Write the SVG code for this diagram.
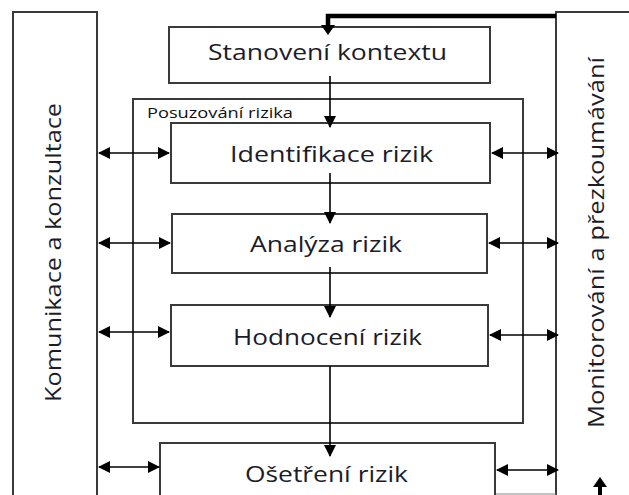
<svg xmlns="http://www.w3.org/2000/svg" width="629" height="495" viewBox="0 0 629 495">
<defs>
<style>
.box{fill:#fff;stroke:#3a3a3a;stroke-width:2}
.frame{fill:none;stroke:#3a3a3a;stroke-width:2}
.lbl{font-family:"Open Sans","Liberation Sans",sans-serif;font-size:21px;fill:#1c1c28}
.small{font-family:"Open Sans","Liberation Sans",sans-serif;font-size:14px;fill:#111}
.one{stroke:#000;stroke-width:1.6;fill:none;marker-end:url(#ah)}
.dbl{stroke:#000;stroke-width:1.6;fill:none;marker-start:url(#ah);marker-end:url(#ah)}
</style>
<marker id="ah" viewBox="0 0 12 12" refX="11" refY="6" markerWidth="12" markerHeight="12" markerUnits="userSpaceOnUse" orient="auto-start-reverse">
<path d="M0,0 L12,6 L0,12 Z" fill="#000"/>
</marker>
</defs>

<g id="komunikace">
<path class="frame" d="M13,495 V12 H97 V495"/>
<text class="lbl" transform="translate(61,402) rotate(-90)" x="0" y="0" textLength="299" lengthAdjust="spacingAndGlyphs">Komunikace a konzultace</text>
</g>

<g id="monitorovani">
<path class="frame" d="M629,12 H556 V495"/>
<text class="lbl" transform="translate(604,428) rotate(-90)" x="0" y="0" textLength="371" lengthAdjust="spacingAndGlyphs">Monitorování a přezkoumávání</text>
</g>

<g id="posuzovani">
<rect class="frame" x="133" y="99" width="390" height="324"/>
<text class="small" x="147" y="118" textLength="146" lengthAdjust="spacingAndGlyphs">Posuzování rizika</text>
</g>

<g id="stanoveni">
<rect class="box" x="169" y="27" width="321" height="56"/>
<text class="lbl" x="208" y="60" textLength="239" lengthAdjust="spacingAndGlyphs">Stanovení kontextu</text>
</g>

<g id="identifikace">
<rect class="box" x="171" y="123" width="319" height="60"/>
<text class="lbl" x="230" y="162" textLength="203" lengthAdjust="spacingAndGlyphs">Identifikace rizik</text>
</g>

<g id="analyza">
<rect class="box" x="172" y="214" width="315" height="59"/>
<text class="lbl" x="250" y="252" textLength="152" lengthAdjust="spacingAndGlyphs">Analýza rizik</text>
</g>

<g id="hodnoceni">
<rect class="box" x="171" y="305" width="317" height="61"/>
<text class="lbl" x="233" y="345" textLength="189" lengthAdjust="spacingAndGlyphs">Hodnocení rizik</text>
</g>

<g id="osetreni">
<path class="box" d="M160,496 V443 H495 V496"/>
<text class="lbl" x="245" y="482" textLength="163" lengthAdjust="spacingAndGlyphs">Ošetření rizik</text>
</g>

<g id="connectors">
<path d="M556,16 H328 V26" stroke="#000" stroke-width="4.5" fill="none"/>
<path d="M321,25 L335,25 L328,35 Z" fill="#000"/>
<line class="one" x1="330" y1="76" x2="330" y2="127"/>
<line class="one" x1="330" y1="173" x2="330" y2="223"/>
<line class="one" x1="330" y1="267" x2="330" y2="317"/>
<line class="one" x1="330" y1="366" x2="330" y2="456"/>
<line class="dbl" x1="99" y1="153" x2="169" y2="153"/>
<line class="dbl" x1="99" y1="243" x2="170" y2="243"/>
<line class="dbl" x1="99" y1="332" x2="169" y2="332"/>
<line class="dbl" x1="99" y1="467" x2="159" y2="467"/>
<line class="dbl" x1="492" y1="153" x2="558" y2="153"/>
<line class="dbl" x1="489" y1="243" x2="558" y2="243"/>
<line class="dbl" x1="490" y1="335" x2="558" y2="335"/>
<line class="dbl" x1="497" y1="470" x2="558" y2="470"/>
<line x1="600" y1="495" x2="600" y2="484" stroke="#000" stroke-width="4"/>
<path d="M593,487 L607,487 L600,477 Z" fill="#000"/>
<line x1="496" y1="494" x2="556" y2="494" stroke="#888" stroke-width="1"/>
</g>
</svg>
